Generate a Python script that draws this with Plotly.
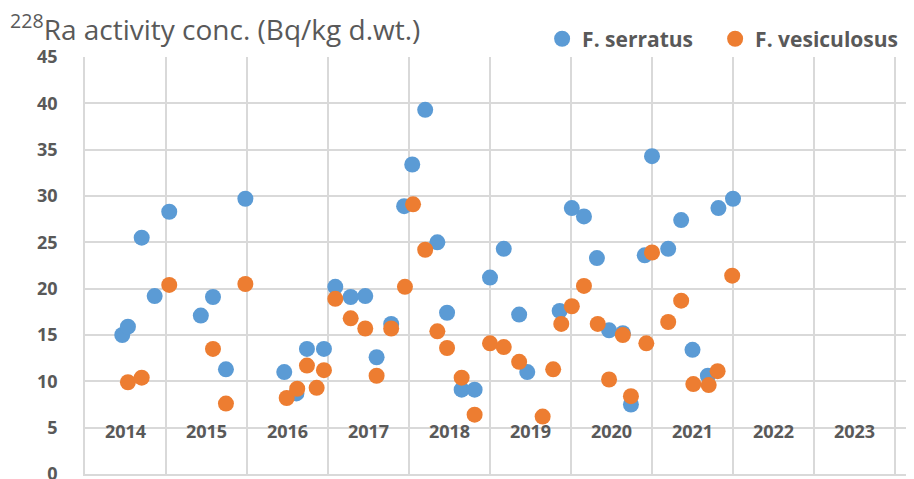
import plotly.graph_objects as go

BLUE = "#5B9BD5"
ORANGE = "#ED7D31"
TXT = "#595959"
GRID = "#D9D9D9"
FONT = "Open Sans"

# F. serratus (decimal year, Bq/kg d.wt.)
serratus_t = [2014.46, 2014.53, 2014.70, 2014.86, 2015.04, 2015.43, 2015.58, 2015.74, 2015.98,
              2016.46, 2016.61, 2016.74, 2016.95, 2017.09, 2017.28, 2017.46, 2017.60, 2017.78,
              2017.94, 2018.04, 2018.20, 2018.35, 2018.47, 2018.65, 2018.81, 2019.00, 2019.17,
              2019.36, 2019.46, 2019.86, 2020.01, 2020.16, 2020.32, 2020.47, 2020.64, 2020.74,
              2020.91, 2021.00, 2021.20, 2021.36, 2021.50, 2021.69, 2021.82, 2022.00]
serratus_v = [15.0, 15.9, 25.5, 19.2, 28.3, 17.1, 19.1, 11.3, 29.7,
              11.0, 8.7, 13.5, 13.5, 20.2, 19.1, 19.2, 12.6, 16.2,
              28.9, 33.4, 39.3, 25.0, 17.4, 9.1, 9.1, 21.2, 24.3,
              17.2, 11.0, 17.6, 28.7, 27.8, 23.3, 15.5, 15.2, 7.5,
              23.6, 34.3, 24.3, 27.4, 13.4, 10.6, 28.7, 29.7]

# F. vesiculosus
vesic_t = [2014.53, 2014.70, 2015.04, 2015.58, 2015.74, 2015.98, 2016.49, 2016.62, 2016.74,
           2016.86, 2016.95, 2017.09, 2017.28, 2017.46, 2017.60, 2017.78, 2017.95, 2018.05,
           2018.20, 2018.35, 2018.47, 2018.65, 2018.81, 2019.00, 2019.17, 2019.36, 2019.65,
           2019.78, 2019.88, 2020.01, 2020.16, 2020.33, 2020.47, 2020.64, 2020.74, 2020.93,
           2021.00, 2021.20, 2021.36, 2021.51, 2021.70, 2021.81, 2021.99]
vesic_v = [9.9, 10.4, 20.4, 13.5, 7.6, 20.5, 8.2, 9.2, 11.7,
           9.3, 11.2, 18.9, 16.8, 15.7, 10.6, 15.7, 20.2, 29.1,
           24.2, 15.4, 13.6, 10.4, 6.4, 14.1, 13.7, 12.1, 6.2,
           11.3, 16.2, 18.1, 20.3, 16.2, 10.2, 15.0, 8.4, 14.1,
           23.9, 16.4, 18.7, 9.7, 9.6, 11.1, 21.4]

years = list(range(2014, 2024))
year_labels = [str(y) for y in years]

fig = go.Figure()
fig.add_trace(go.Scatter(x=serratus_t, y=serratus_v, mode="markers", name="F. serratus",
                         marker=dict(color=BLUE, size=16), legend="legend"))
fig.add_trace(go.Scatter(x=vesic_t, y=vesic_v, mode="markers", name="F. vesiculosus",
                         marker=dict(color=ORANGE, size=16), legend="legend2"))
# year labels sit inside the plot, between the yearly gridlines
fig.add_trace(go.Scatter(x=[y + 0.5 for y in years], y=[4.4] * len(years), mode="text",
                         text=year_labels, textposition="middle center", showlegend=False,
                         textfont=dict(family=FONT, size=18, color=TXT, weight="bold"),
                         hoverinfo="skip"))

LEG = dict(orientation="h", xanchor="left", yanchor="middle", y=1.043,
           bgcolor="rgba(0,0,0,0)",
           font=dict(family=FONT, size=21, color=TXT, weight="bold"))

# page body has an 8px margin, so the figure is 8px smaller than the window
fig.update_layout(
    width=906, height=471,
    plot_bgcolor="white", paper_bgcolor="white",
    margin=dict(l=77, r=0, t=49, b=5, autoexpand=False),
    font=dict(family=FONT, color=TXT, size=18),
    title=dict(text="<sup>228</sup>Ra activity conc. (Bq/kg d.wt.)", xref="container",
               x=2 / 906, xanchor="left", y=1 - 22 / 471, yanchor="middle",
               font=dict(family=FONT, size=28, color=TXT)),
    legend=dict(LEG, x=0.5514),
    legend2=dict(LEG, x=0.7601),
    xaxis=dict(range=[2014, 2014 + 829 / 81], tick0=2014, dtick=1, showticklabels=False,
               showgrid=True, gridcolor=GRID, gridwidth=1.5, zeroline=False,
               showline=True, linecolor=GRID, linewidth=1.5, automargin=False),
    yaxis=dict(range=[0, 45], dtick=5, showgrid=True, gridcolor=GRID, gridwidth=1.5,
               zeroline=False, showline=True, linecolor=GRID, linewidth=1.5,
               ticklabelstandoff=22, ticklabeloverflow="allow", automargin=False,
               tickfont=dict(family=FONT, size=18, color=TXT, weight="bold")),
)

fig.write_html("out.html")
